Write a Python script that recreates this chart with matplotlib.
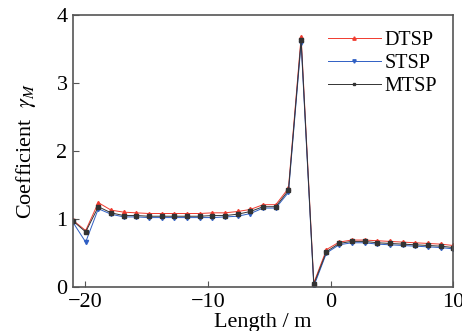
import numpy as np
import matplotlib.pyplot as plt

plt.rcParams['font.family'] = ['Liberation Serif', 'DejaVu Serif']
plt.rcParams['mathtext.fontset'] = 'stix'

# positions along the length (31 points, -21 m to 10 m)
length = np.linspace(-21, 10, 31)

dtsp = [0.98, 0.83, 1.24, 1.13, 1.10, 1.09, 1.08, 1.08, 1.08, 1.08, 1.08, 1.09,
        1.09, 1.11, 1.14, 1.21, 1.21, 1.45, 3.68, 0.06, 0.55, 0.66, 0.69, 0.69,
        0.68, 0.67, 0.66, 0.65, 0.64, 0.63, 0.61]
stsp = [0.95, 0.66, 1.15, 1.07, 1.03, 1.03, 1.02, 1.02, 1.02, 1.02, 1.02, 1.02,
        1.03, 1.04, 1.08, 1.16, 1.16, 1.39, 3.59, 0.01, 0.50, 0.62, 0.65, 0.65,
        0.63, 0.62, 0.61, 0.60, 0.59, 0.58, 0.56]
mtsp = [0.97, 0.81, 1.18, 1.09, 1.05, 1.05, 1.04, 1.04, 1.04, 1.04, 1.04, 1.05,
        1.05, 1.07, 1.11, 1.18, 1.18, 1.42, 3.63, 0.04, 0.52, 0.64, 0.67, 0.67,
        0.65, 0.64, 0.63, 0.62, 0.61, 0.60, 0.58]

fig = plt.figure(figsize=(4.62, 3.31), dpi=100)
ax = fig.add_axes([0.158, 0.133, 0.823, 0.822])

ax.plot(length, dtsp, color='#f03a2e', marker='^', ms=3, lw=0.7, label='DTSP')
ax.plot(length, stsp, color='#2f5fc4', marker='v', ms=3, lw=0.7, label='STSP')
ax.plot(length, mtsp, color='#333333', marker='s', ms=2.6, lw=0.7, label='MTSP')

ax.set_xlim(-21, 10)
ax.set_ylim(0, 4)
ax.set_xticks([-20, -10, 0, 10])
ax.set_xticklabels(['\u221220', '\u221210', '0', '10'])
ax.set_yticks([0, 1, 2, 3, 4])
ax.tick_params(direction='in', labelsize=16, length=4, color='#555555', pad=4)
for s in ax.spines.values():
    s.set_color('#555555')
    s.set_linewidth(1.2)

ax.set_xlabel('Length / m', fontsize=16, labelpad=1)
ax.set_ylabel(r'Coefficient  $\gamma_M$', fontsize=16, labelpad=13)

leg = ax.legend(loc='upper right', frameon=False, fontsize=14.5, handlelength=2.6,
                handletextpad=0.2, labelspacing=0.2, borderaxespad=0.4,
                markerscale=0.8)

fig.savefig('out.png', dpi=100)
